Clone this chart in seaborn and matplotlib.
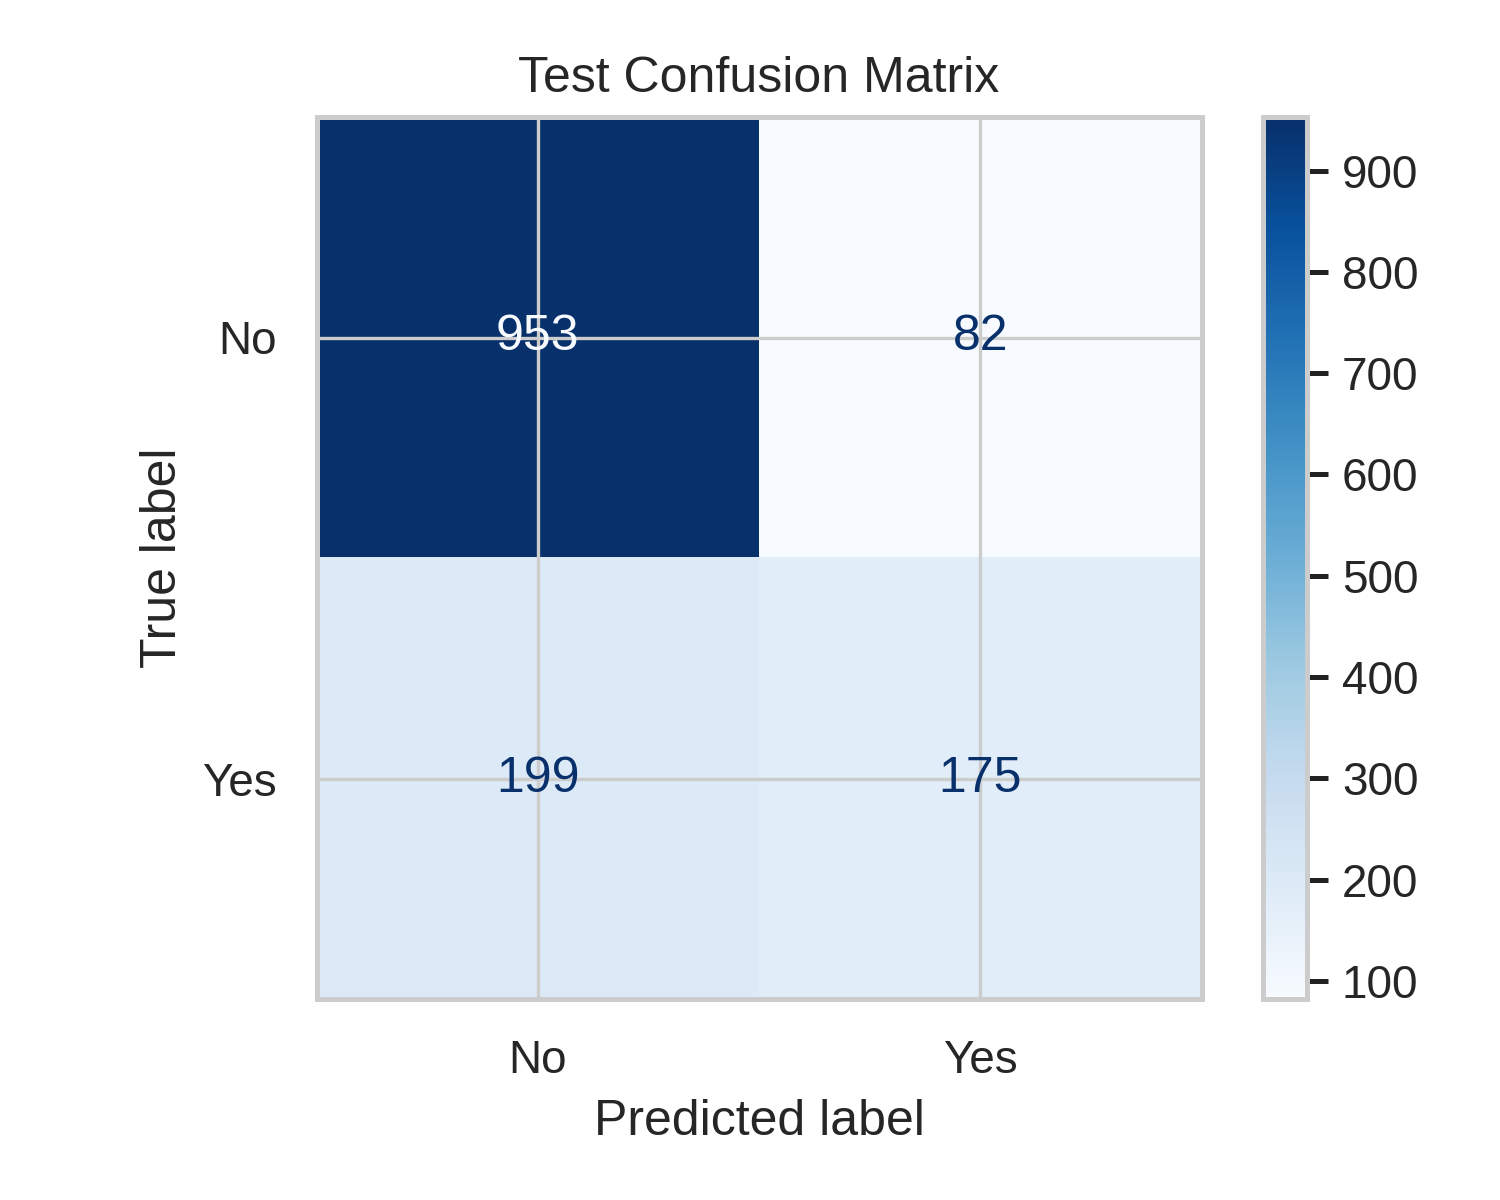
import numpy as np
import seaborn as sns
import matplotlib.pyplot as plt

labels = ["No", "Yes"]
cm = np.array([[953, 82],
               [199, 175]])

sns.set_theme(style="whitegrid")
plt.rcParams['font.family'] = ['Liberation Sans', 'DejaVu Sans']

fig = plt.figure(figsize=(5, 4), dpi=300)
ax = fig.add_axes([0.211, 0.1675, 0.59, 0.735])
cax = fig.add_axes([0.842, 0.1675, 0.029, 0.735])

cmap = plt.get_cmap("Blues")
im = ax.imshow(cm, cmap=cmap, interpolation="nearest", aspect="auto")
cb = fig.colorbar(im, cax=cax)
cb.ax.tick_params(length=5, width=1.2, color="#222222", direction="out", right=True)
cb.outline.set_edgecolor("#cccccc")
cb.outline.set_linewidth(1.2)

thresh = (cm.max() + cm.min()) / 2
for i in range(2):
    for j in range(2):
        col = cmap(0.0) if cm[i, j] > thresh else cmap(1.0)
        ax.text(j, i, str(cm[i, j]), ha="center", va="center", color=col, fontsize=12)

ax.set_xticks(range(2))
ax.set_xticklabels(labels)
ax.set_yticks(range(2))
ax.set_yticklabels(labels)
ax.set_xlabel("Predicted label", fontsize=12)
ax.set_ylabel("True label", fontsize=12)
ax.set_title("Test Confusion Matrix", fontsize=12)
ax.tick_params(labelsize=11)
for s in ax.spines.values():
    s.set_edgecolor("#cccccc")
    s.set_linewidth(1.2)
ax.grid(True, color="#cccccc", linewidth=0.8)

fig.savefig("out.png", dpi=300)
